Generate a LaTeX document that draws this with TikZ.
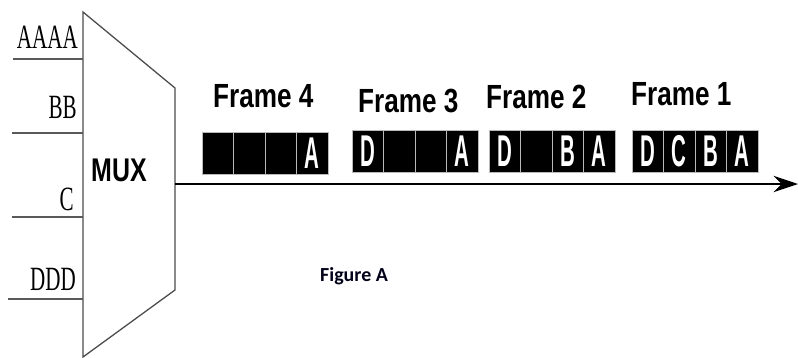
\documentclass[tikz,border=0pt]{standalone}
\usepackage{graphicx}
\usepackage{fontspec}
\usepackage{tikz}
\usetikzlibrary{positioning,arrows.meta}

\newfontfamily\framefont{Liberation Sans}
\newfontfamily\inpfont{Liberation Serif}
\newfontfamily\capfont{Carlito}
\newcommand{\squeeze}[2]{\scalebox{#1}[1]{#2}}

\begin{document}
\begin{tikzpicture}[
  x=0.03cm, y=-0.03cm,
  muxLine/.style={draw=black!70, line width=1.1pt, line join=miter},
  inp/.style={draw=black!65, line width=1.1pt},
  inLbl/.style={anchor=base east, inner sep=0pt, font=\inpfont\fontsize{29}{29}\selectfont},
  frameLbl/.style={anchor=base west, inner sep=0pt, font=\framefont\bfseries\fontsize{28.6}{28.6}\selectfont},
  cell/.style={draw=gray!55, line width=0.6pt, fill=black, text=white, inner sep=0pt, outer sep=0pt,
               minimum width=0.945cm, minimum height=1.26cm, font=\framefont\bfseries\fontsize{38}{38}\selectfont},
  arr/.style={-{Stealth[length=21pt, width=14pt, inset=7pt]}, line width=1.5pt, color=black},
]
\useasboundingbox (0,0) rectangle (798,358);

% multiplexer body
\coordinate (muxTL) at (83,12);
\coordinate (muxTR) at (175,88);
\coordinate (muxBR) at (175,290);
\coordinate (muxBL) at (83,357);
\draw[muxLine] (muxTL) -- (muxTR) -- (muxBR) -- (muxBL) -- cycle;
\node[anchor=base west, inner sep=0pt, font=\framefont\bfseries\fontsize{28}{28}\selectfont]
  (mux) at (91,181) {\squeeze{0.76}{MUX}};

% inputs
\coordinate (inA) at (13,59);   \coordinate (muxA) at (83,59);
\coordinate (inB) at (12,133);  \coordinate (muxB) at (83,133);
\coordinate (inC) at (12,217);  \coordinate (muxC) at (83,217);
\coordinate (inD) at (8,299);   \coordinate (muxD) at (83,299);
\draw[inp] (inA) -- (muxA);
\draw[inp] (inB) -- (muxB);
\draw[inp] (inC) -- (muxC);
\draw[inp] (inD) -- (muxD);
\node[inLbl] (lblA) at (78,48)  {\squeeze{0.62}{AAAA}};
\node[inLbl] (lblB) at (77,118) {\squeeze{0.62}{BB}};
\node[inLbl] (lblC) at (74,210) {\squeeze{0.62}{C}};
\node[inLbl] (lblD) at (76,290) {\squeeze{0.62}{DDD}};

% output line
\coordinate (muxOut) at (175,184);
\coordinate (lineEnd) at (798,184);
\draw[arr] (muxOut) -- (lineEnd);

% frame labels
\node[frameLbl] (t4) at (213,107) {\squeeze{0.78}{Frame 4}};
\node[frameLbl] (t3) at (358,112) {\squeeze{0.78}{Frame 3}};
\node[frameLbl] (t2) at (486,108) {\squeeze{0.78}{Frame 2}};
\node[frameLbl] (t1) at (631,105) {\squeeze{0.78}{Frame 1}};

% frame 4
\node[cell] (f4p1) at (217.75,153) {};
\node[cell, right=0pt of f4p1] (f4p2) {};
\node[cell, right=0pt of f4p2] (f4p3) {};
\node[cell, right=0pt of f4p3] (f4p4) {\squeeze{0.46}{A}};
% frame 3
\node[cell] (f3p1) at (367.75,151.5) {\squeeze{0.46}{D}};
\node[cell, right=0pt of f3p1] (f3p2) {};
\node[cell, right=0pt of f3p2] (f3p3) {};
\node[cell, right=0pt of f3p3] (f3p4) {\squeeze{0.46}{A}};
% frame 2
\node[cell] (f2p1) at (504.75,151.5) {\squeeze{0.46}{D}};
\node[cell, right=0pt of f2p1] (f2p2) {};
\node[cell, right=0pt of f2p2] (f2p3) {\squeeze{0.46}{B}};
\node[cell, right=0pt of f2p3] (f2p4) {\squeeze{0.46}{A}};
% frame 1
\node[cell] (f1p1) at (647.75,151) {\squeeze{0.46}{D}};
\node[cell, right=0pt of f1p1] (f1p2) {\squeeze{0.46}{C}};
\node[cell, right=0pt of f1p2] (f1p3) {\squeeze{0.46}{B}};
\node[cell, right=0pt of f1p3] (f1p4) {\squeeze{0.46}{A}};

\node[anchor=base west, inner sep=0pt, text=black!90!blue, font=\capfont\bfseries\fontsize{17}{17}\selectfont]
  (fig) at (320,281) {Figure A};
\end{tikzpicture}
\end{document}
